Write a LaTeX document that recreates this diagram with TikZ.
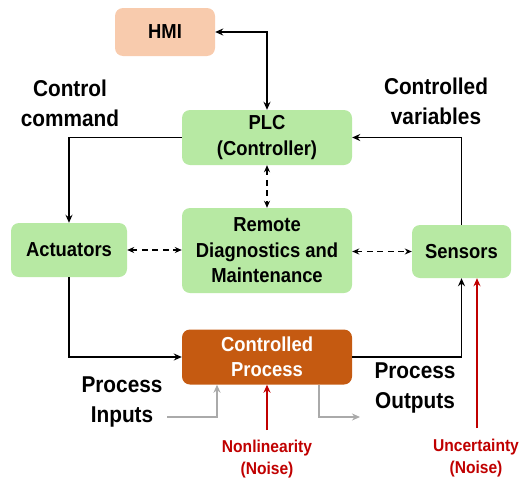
\documentclass[tikz,border=0pt]{standalone}
\usepackage{fontspec}
\setmainfont{Liberation Sans}
\usetikzlibrary{arrows.meta,calc}
\definecolor{boxgreen}{RGB}{183,233,163}
\definecolor{hmicol}{RGB}{248,203,173}
\definecolor{proccol}{RGB}{197,90,17}
\definecolor{noisered}{RGB}{192,0,0}
\definecolor{flowgray}{RGB}{170,170,170}
\newcommand{\vs}[1]{\scalebox{1}[1.1]{#1}}
\begin{document}
\begin{tikzpicture}[x=1pt,y=-1pt,
  box/.style={fill=boxgreen,draw=none,rounded corners=8pt,align=center,inner sep=0pt,
    font=\fontsize{18.4}{25.5}\selectfont\bfseries},
  lbl/.style={align=center,inner sep=0pt,font=\fontsize{20.8}{30}\selectfont\bfseries},
  noiselbl/.style={align=center,inner sep=0pt,text=noisered,font=\fontsize{15.6}{22}\selectfont\bfseries},
  arr/.style={-{Stealth[length=8pt,width=7pt]},line width=1.8pt},
  darr/.style={{Stealth[length=8pt,width=7pt]}-{Stealth[length=8pt,width=7pt]},line width=1.8pt},
  dash2/.style={{Stealth[length=7pt,width=6pt]}-{Stealth[length=7pt,width=6pt]},line width=1.8pt,dash pattern=on 6pt off 4.5pt},
  redarr/.style={-{Stealth[length=8pt,width=7pt]},line width=1.8pt,noisered},
  grayarr/.style={-{Stealth[length=8pt,width=7pt]},line width=2.2pt,flowgray}
]
\useasboundingbox (0,0) rectangle (521,479);
\node[box,fill=hmicol,minimum width=100pt,minimum height=48pt] (hmi) at (165,32) {\vs{HMI}};
\node[box,minimum width=170pt,minimum height=55pt] (plc) at (267,137.5) {\vs{PLC}\\\vs{(Controller)}};
\node[box,minimum width=116pt,minimum height=54pt] (act) at (69,250) {\vs{Actuators}};
\node[box,minimum width=170pt,minimum height=85pt] (rdm) at (267,250.5) {\vs{Remote}\\\vs{Diagnostics and}\\\vs{Maintenance}};
\node[box,minimum width=99pt,minimum height=53pt] (sen) at (461.5,251.5) {\vs{Sensors}};
\node[box,fill=proccol,text=white,minimum width=170pt,minimum height=55pt] (proc) at (267,357) {\vs{Controlled}\\\vs{Process}};

\node[lbl] (cc) at (70,103) {\vs{Control}\\\vs{command}};
\node[lbl] (cv) at (436,101) {\vs{Controlled}\\\vs{variables}};
\node[lbl] (pin) at (122,402) {\vs{Process}\\\vs{Inputs}};
\node[lbl] (pout) at (415,388) {\vs{Process}\\\vs{Outputs}};
\node[noiselbl] (nl) at (267,459) {\vs{Nonlinearity}\\\vs{(Noise)}};
\node[noiselbl] (uc) at (476,458) {\vs{Uncertainty}\\\vs{(Noise)}};

\draw[darr] (hmi.east) -| (plc.north);
\draw[arr] (plc.west) -| (act.north);
\draw[arr] (act.south) |- (proc.west);
\draw[arr] (proc.east) -| (sen.south);
\draw[arr] (sen.north) |- (plc.east);
\draw[dash2] (plc.south) -- (rdm.north);
\draw[dash2] (act.east) -- (act.east -| rdm.west);
\draw[dash2] (rdm.east |- sen.west) -- (sen.west);

\coordinate (n1) at (267,430);
\coordinate (u1) at (477,428);
\draw[redarr] (n1) -- (proc.south);
\draw[redarr] (u1) -- (u1 |- sen.south);

\coordinate (gi) at (167,417);
\coordinate (go) at (360,417);
\draw[grayarr] (gi) -| ($(proc.south)+(-50,0)$);
\draw[grayarr] ($(proc.south)+(52,0)$) |- (go);
\end{tikzpicture}
\end{document}
